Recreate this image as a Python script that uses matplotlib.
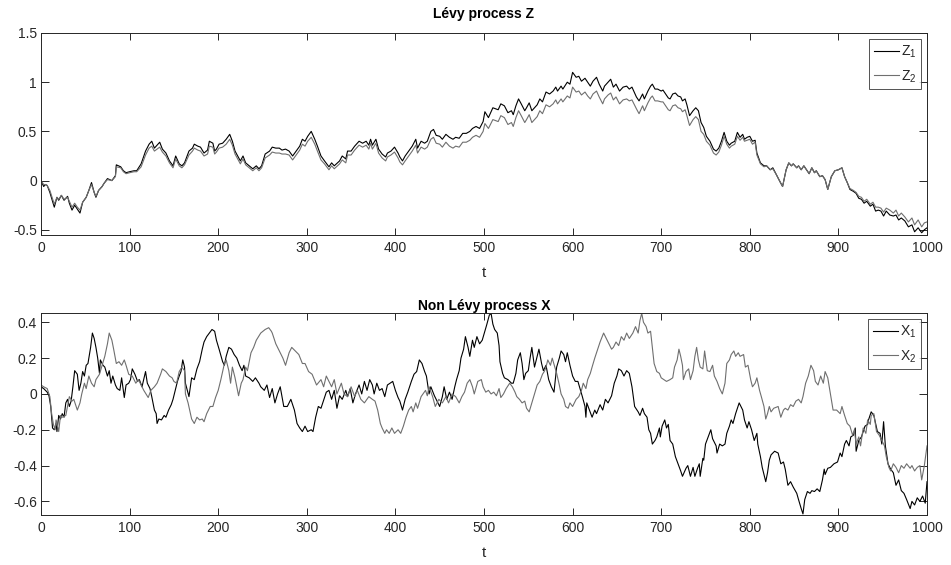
import matplotlib
matplotlib.use("Agg")
import matplotlib.pyplot as plt

plt.rcParams["font.family"] = ["Liberation Sans", "DejaVu Sans"]
plt.rcParams["mathtext.fontset"] = "custom"
plt.rcParams["mathtext.rm"] = "Liberation Sans"
plt.rcParams["mathtext.it"] = "Liberation Sans"

# ---- Lévy process Z: two correlated paths sampled on a shared time grid ----
t_z = [
    0, 3, 5, 7, 10, 15, 18, 20, 23, 26,
    30, 32, 35, 38, 41, 44, 47, 51, 54, 57,
    60, 62, 65, 69, 71, 75, 80, 84, 85, 90,
    93, 96, 100, 105, 108, 113, 118, 122, 125, 128,
    131, 134, 137, 141, 145, 149, 152, 156, 159, 162,
    167, 171, 173, 177, 180, 184, 188, 190, 194, 196,
    198, 201, 205, 209, 213, 216, 219, 222, 225, 228,
    231, 235, 239, 243, 246, 249, 253, 258, 261, 265,
    269, 272, 276, 280, 284, 288, 292, 295, 298, 301,
    305, 309, 312, 316, 320, 325, 328, 331, 337, 340,
    344, 346, 350, 354, 359, 363, 367, 370, 372, 374,
    378, 381, 385, 389, 391, 395, 399, 403, 405, 408,
    411, 415, 419, 423, 425, 429, 433, 436, 440, 443,
    446, 450, 453, 457, 461, 465, 468, 472, 476, 480,
    484, 487, 491, 495, 499, 501, 505, 510, 516, 519,
    523, 527, 531, 533, 536, 539, 542, 546, 548, 551,
    554, 557, 560, 563, 566, 570, 574, 578, 581, 583,
    587, 589, 594, 597, 600, 604, 607, 610, 614, 617,
    620, 623, 627, 630, 634, 636, 640, 643, 646, 649,
    653, 657, 661, 664, 667, 672, 675, 679, 681, 685,
    688, 690, 693, 696, 700, 702, 705, 708, 710, 713,
    716, 719, 722, 724, 727, 729, 732, 736, 739, 742,
    745, 748, 751, 755, 759, 762, 765, 768, 771, 774,
    777, 779, 783, 786, 789, 792, 794, 797, 800, 803,
    806, 808, 812, 816, 819, 823, 826, 830, 834, 837,
    841, 844, 847, 849, 853, 855, 858, 861, 864, 867,
    870, 873, 875, 879, 882, 885, 888, 892, 896, 900,
    904, 907, 910, 913, 917, 920, 923, 926, 929, 932,
    936, 939, 942, 945, 948, 951, 954, 958, 962, 965,
    968, 971, 975, 979, 983, 986, 990, 994, 997, 1000,
]
z1 = [
    0.0, -0.06, -0.04, -0.05, -0.12, -0.27, -0.17, -0.2, -0.15, -0.2,
    -0.16, -0.23, -0.3, -0.25, -0.29, -0.33, -0.22, -0.17, -0.1, -0.02,
    -0.12, -0.17, -0.1, -0.06, -0.03, 0.02, 0.0, 0.05, 0.16, 0.14,
    0.1, 0.08, 0.09, 0.1, 0.1, 0.17, 0.3, 0.37, 0.4, 0.33,
    0.36, 0.39, 0.32, 0.28, 0.2, 0.15, 0.25, 0.17, 0.15, 0.18,
    0.3, 0.33, 0.37, 0.35, 0.34, 0.28, 0.31, 0.4, 0.38, 0.3,
    0.32, 0.37, 0.38, 0.42, 0.47, 0.4, 0.3, 0.25, 0.2, 0.25,
    0.18, 0.15, 0.12, 0.15, 0.12, 0.15, 0.27, 0.3, 0.34, 0.33,
    0.33, 0.31, 0.32, 0.3, 0.25, 0.3, 0.35, 0.42, 0.4, 0.45,
    0.5, 0.42, 0.35, 0.25, 0.2, 0.14, 0.18, 0.15, 0.2, 0.25,
    0.22, 0.3, 0.3, 0.35, 0.4, 0.38, 0.4, 0.36, 0.42, 0.36,
    0.42, 0.32, 0.27, 0.24, 0.28, 0.3, 0.34, 0.28, 0.24, 0.2,
    0.25, 0.3, 0.35, 0.42, 0.33, 0.4, 0.38, 0.4, 0.5, 0.52,
    0.46, 0.45, 0.42, 0.47, 0.44, 0.42, 0.44, 0.43, 0.48, 0.48,
    0.5, 0.53, 0.55, 0.53, 0.6, 0.7, 0.64, 0.74, 0.72, 0.78,
    0.76, 0.69, 0.71, 0.67, 0.76, 0.83, 0.78, 0.71, 0.74, 0.79,
    0.71, 0.74, 0.77, 0.83, 0.8, 0.9, 0.88, 0.91, 0.95, 0.91,
    0.96, 0.93, 1.0, 0.98, 1.1, 1.05, 1.06, 1.01, 1.04, 1.0,
    0.96, 1.01, 1.05, 0.98, 0.91, 0.96, 1.0, 1.03, 0.95, 0.98,
    0.91, 0.95, 0.96, 0.93, 0.95, 0.85, 0.81, 0.88, 0.83, 0.91,
    0.96, 0.98, 0.93, 0.93, 0.91, 0.92, 0.88, 0.84, 0.83, 0.88,
    0.89, 0.86, 0.85, 0.81, 0.83, 0.77, 0.66, 0.71, 0.74, 0.71,
    0.59, 0.54, 0.45, 0.4, 0.32, 0.3, 0.33, 0.4, 0.49, 0.4,
    0.36, 0.38, 0.4, 0.49, 0.44, 0.47, 0.42, 0.44, 0.45, 0.4,
    0.41, 0.28, 0.18, 0.15, 0.15, 0.11, 0.13, 0.06, -0.01, -0.06,
    0.11, 0.18, 0.15, 0.17, 0.13, 0.15, 0.11, 0.15, 0.11, 0.07,
    0.13, 0.08, 0.1, 0.04, 0.05, 0.01, -0.09, 0.04, 0.1, 0.11,
    0.13, 0.04, -0.02, -0.09, -0.11, -0.13, -0.18, -0.19, -0.23, -0.21,
    -0.26, -0.24, -0.31, -0.3, -0.31, -0.36, -0.31, -0.35, -0.36, -0.35,
    -0.4, -0.38, -0.41, -0.47, -0.45, -0.52, -0.48, -0.53, -0.5, -0.48,
]
z2 = [
    0.0, -0.04, -0.04, -0.05, -0.1, -0.24, -0.17, -0.19, -0.15, -0.19,
    -0.17, -0.21, -0.27, -0.23, -0.27, -0.3, -0.22, -0.17, -0.1, -0.04,
    -0.12, -0.16, -0.1, -0.06, -0.03, 0.01, 0.0, 0.04, 0.14, 0.13,
    0.09, 0.07, 0.08, 0.09, 0.09, 0.14, 0.26, 0.33, 0.35, 0.3,
    0.32, 0.34, 0.29, 0.25, 0.18, 0.13, 0.22, 0.15, 0.13, 0.16,
    0.26, 0.3, 0.33, 0.31, 0.3, 0.25, 0.27, 0.35, 0.34, 0.27,
    0.29, 0.33, 0.34, 0.37, 0.42, 0.36, 0.27, 0.22, 0.17, 0.22,
    0.16, 0.13, 0.1, 0.13, 0.1, 0.13, 0.23, 0.26, 0.29, 0.28,
    0.28, 0.27, 0.27, 0.26, 0.21, 0.26, 0.31, 0.37, 0.35, 0.4,
    0.44, 0.37, 0.3, 0.21, 0.17, 0.11, 0.15, 0.12, 0.17, 0.21,
    0.18, 0.26, 0.26, 0.31, 0.36, 0.34, 0.36, 0.32, 0.38, 0.32,
    0.38, 0.28, 0.23, 0.2, 0.24, 0.26, 0.29, 0.23, 0.19, 0.16,
    0.2, 0.25, 0.3, 0.36, 0.28, 0.34, 0.32, 0.34, 0.42, 0.44,
    0.38, 0.37, 0.34, 0.39, 0.35, 0.33, 0.35, 0.34, 0.39, 0.39,
    0.41, 0.44, 0.46, 0.44, 0.5, 0.58, 0.53, 0.62, 0.6, 0.66,
    0.64, 0.57, 0.59, 0.55, 0.64, 0.71, 0.66, 0.59, 0.62, 0.67,
    0.59, 0.62, 0.65, 0.71, 0.68, 0.77, 0.75, 0.78, 0.82, 0.78,
    0.83, 0.8, 0.86, 0.84, 0.95, 0.9, 0.91, 0.87, 0.9, 0.86,
    0.83, 0.88, 0.91, 0.85, 0.78, 0.83, 0.87, 0.89, 0.82, 0.85,
    0.78, 0.82, 0.83, 0.81, 0.82, 0.73, 0.68, 0.76, 0.71, 0.79,
    0.84, 0.86, 0.81, 0.81, 0.8, 0.8, 0.76, 0.72, 0.71, 0.76,
    0.77, 0.74, 0.73, 0.7, 0.72, 0.66, 0.56, 0.62, 0.65, 0.62,
    0.5, 0.47, 0.4, 0.36, 0.28, 0.26, 0.29, 0.36, 0.45, 0.37,
    0.33, 0.35, 0.37, 0.45, 0.41, 0.44, 0.4, 0.41, 0.42, 0.37,
    0.39, 0.26, 0.17, 0.14, 0.15, 0.11, 0.12, 0.06, -0.01, -0.06,
    0.11, 0.18, 0.15, 0.17, 0.13, 0.15, 0.11, 0.15, 0.11, 0.07,
    0.13, 0.08, 0.1, 0.04, 0.05, 0.01, -0.09, 0.04, 0.1, 0.11,
    0.13, 0.04, -0.02, -0.08, -0.1, -0.12, -0.16, -0.17, -0.21, -0.19,
    -0.24, -0.22, -0.27, -0.27, -0.28, -0.32, -0.28, -0.3, -0.33, -0.3,
    -0.36, -0.33, -0.37, -0.42, -0.38, -0.45, -0.4, -0.47, -0.43, -0.42,
]

# ---- Non Lévy process X ----
t_x1 = [
    0, 3, 7, 9, 11, 13, 15, 17, 18, 20,
    22, 24, 26, 28, 30, 32, 34, 36, 38, 41,
    43, 45, 47, 49, 51, 53, 56, 58, 60, 62,
    64, 66, 67, 70, 72, 75, 77, 79, 81, 84,
    86, 89, 91, 94, 96, 99, 101, 103, 106, 109,
    111, 114, 118, 120, 123, 125, 128, 130, 131, 133,
    136, 139, 141, 144, 147, 149, 151, 154, 156, 158,
    160, 162, 163, 167, 170, 173, 176, 179, 182, 184,
    187, 190, 193, 196, 198, 201, 205, 207, 209, 212,
    215, 218, 221, 224, 227, 229, 231, 235, 239, 242,
    246, 248, 252, 255, 258, 261, 264, 267, 270, 274,
    278, 282, 286, 289, 292, 295, 298, 301, 305, 307,
    310, 313, 316, 318, 322, 325, 328, 331, 334, 337,
    340, 344, 346, 349, 352, 355, 359, 362, 365, 368,
    371, 374, 376, 379, 382, 385, 388, 391, 397, 400,
    403, 405, 408, 411, 414, 418, 421, 424, 427, 430,
    433, 435, 438, 440, 444, 447, 450, 453, 455, 458,
    461, 464, 467, 469, 472, 474, 477, 479, 482, 484,
    487, 489, 492, 495, 498, 501, 503, 506, 508, 510,
    512, 515, 517, 518, 521, 523, 527, 531, 533, 536,
    538, 541, 543, 545, 547, 550, 552, 554, 557, 560,
    562, 565, 567, 570, 573, 576, 579, 581, 582, 585,
    587, 590, 592, 594, 597, 600, 603, 606, 609, 611,
    614, 615, 616, 619, 622, 625, 627, 631, 634, 637,
    640, 644, 647, 650, 652, 655, 658, 661, 664, 667,
    670, 674, 676, 679, 681, 684, 686, 688, 690, 693,
    695, 698, 699, 701, 704, 706, 708, 710, 713, 716,
    719, 722, 724, 728, 730, 733, 736, 738, 741, 743,
    744, 747, 748, 750, 753, 756, 758, 762, 763, 766,
    769, 772, 774, 777, 779, 781, 784, 788, 792, 794,
    797, 799, 802, 805, 808, 809, 812, 814, 818, 820,
    822, 824, 828, 832, 835, 838, 840, 843, 846, 849,
    853, 855, 858, 860, 862, 865, 868, 870, 873, 876,
    879, 882, 884, 885, 888, 891, 895, 899, 902, 904,
    907, 909, 912, 914, 917, 919, 920, 923, 926, 930,
    933, 934, 937, 940, 942, 944, 947, 949, 951, 953,
    956, 959, 962, 965, 968, 971, 974, 977, 981, 983,
    986, 989, 992, 995, 998, 1000,
]
x1 = [
    0.04, 0.03, 0.01, -0.01, -0.07, -0.19, -0.2, -0.165, -0.21, -0.12,
    -0.14, -0.11, -0.13, -0.05, -0.03, -0.07, -0.04, 0.04, 0.13, 0.11,
    0.02, 0.06, 0.125, 0.1, 0.16, 0.17, 0.26, 0.34, 0.31, 0.26,
    0.2, 0.115, 0.19, 0.16, 0.15, 0.1, 0.13, 0.06, 0.1, 0.05,
    0.03, 0.02, 0.09, -0.02, 0.05, 0.06, 0.08, 0.14, 0.11, 0.07,
    0.08, 0.04, 0.125, 0.06, 0.03, -0.015, -0.09, -0.11, -0.165, -0.14,
    -0.145, -0.12, -0.13, -0.09, -0.06, -0.03, 0.01, 0.07, 0.1, 0.125,
    0.19, 0.15, 0.06, -0.015, 0.09, 0.08, 0.14, 0.18, 0.25, 0.29,
    0.32, 0.34, 0.36, 0.35, 0.3, 0.25, 0.18, 0.16, 0.21, 0.26,
    0.25, 0.22, 0.2, 0.16, 0.13, 0.16, 0.1, 0.09, 0.07, 0.09,
    0.06, 0.04, 0.02, 0.05, -0.02, 0.03, -0.05, 0.0, 0.04, -0.07,
    -0.07, -0.03, -0.09, -0.165, -0.19, -0.21, -0.18, -0.21, -0.2, -0.21,
    -0.13, -0.07, -0.08, -0.05, 0.01, 0.02, -0.03, 0.02, -0.08, -0.01,
    -0.03, 0.02, -0.015, 0.03, -0.05, 0.0, 0.05, 0.0, 0.07, 0.02,
    0.08, 0.05, 0.0, 0.06, 0.02, 0.03, -0.015, 0.05, 0.07, 0.02,
    -0.02, -0.04, -0.09, -0.03, 0.01, 0.07, 0.11, 0.125, 0.19, 0.17,
    0.125, 0.1, 0.0, 0.04, -0.01, -0.04, -0.07, -0.015, 0.04, -0.03,
    0.01, -0.03, 0.04, 0.08, 0.13, 0.2, 0.25, 0.32, 0.26, 0.21,
    0.3, 0.26, 0.32, 0.28, 0.3, 0.35, 0.385, 0.44, 0.45, 0.39,
    0.36, 0.34, 0.27, 0.18, 0.115, 0.09, 0.08, 0.06, 0.06, 0.115,
    0.19, 0.23, 0.17, 0.08, 0.115, 0.13, 0.2, 0.26, 0.15, 0.21,
    0.25, 0.17, 0.13, 0.16, 0.08, 0.04, 0.01, 0.1, 0.15, 0.2,
    0.24, 0.22, 0.18, 0.23, 0.16, 0.1, 0.07, 0.07, 0.02, -0.015,
    -0.07, -0.13, -0.05, -0.09, -0.13, -0.09, -0.11, -0.06, -0.09, -0.03,
    -0.05, -0.01, 0.06, 0.1, 0.14, 0.13, 0.1, 0.13, 0.115, 0.04,
    -0.07, -0.1, -0.12, -0.08, -0.11, -0.13, -0.2, -0.22, -0.28, -0.26,
    -0.24, -0.19, -0.24, -0.18, -0.145, -0.19, -0.17, -0.26, -0.28, -0.35,
    -0.39, -0.43, -0.46, -0.415, -0.4, -0.46, -0.41, -0.46, -0.415, -0.39,
    -0.46, -0.36, -0.37, -0.28, -0.24, -0.2, -0.25, -0.29, -0.33, -0.28,
    -0.29, -0.28, -0.22, -0.18, -0.145, -0.165, -0.11, -0.05, -0.09, -0.145,
    -0.19, -0.155, -0.2, -0.26, -0.22, -0.28, -0.35, -0.41, -0.49, -0.44,
    -0.37, -0.34, -0.32, -0.33, -0.39, -0.38, -0.42, -0.51, -0.49, -0.52,
    -0.555, -0.59, -0.64, -0.67, -0.59, -0.545, -0.555, -0.54, -0.545, -0.53,
    -0.545, -0.48, -0.42, -0.45, -0.415, -0.41, -0.39, -0.38, -0.33, -0.35,
    -0.28, -0.26, -0.29, -0.24, -0.23, -0.19, -0.32, -0.26, -0.24, -0.18,
    -0.17, -0.145, -0.1, -0.12, -0.165, -0.21, -0.22, -0.28, -0.155, -0.29,
    -0.39, -0.42, -0.44, -0.51, -0.48, -0.54, -0.555, -0.59, -0.64, -0.6,
    -0.62, -0.58, -0.6, -0.57, -0.61, -0.49,
]
t_x2 = [
    0, 3, 7, 10, 12, 14, 16, 17, 20, 22,
    24, 28, 32, 35, 37, 41, 44, 46, 49, 51,
    54, 57, 60, 62, 66, 69, 72, 75, 77, 80,
    82, 85, 88, 91, 94, 96, 99, 103, 107, 110,
    113, 116, 121, 124, 128, 131, 135, 137, 141, 145,
    148, 150, 153, 156, 159, 162, 163, 166, 170, 173,
    176, 179, 182, 184, 187, 191, 194, 197, 200, 203,
    207, 209, 212, 214, 216, 219, 223, 226, 228, 231,
    233, 237, 240, 243, 248, 253, 257, 260, 261, 265,
    268, 273, 276, 280, 283, 287, 291, 295, 298, 302,
    306, 311, 316, 319, 322, 325, 328, 331, 334, 339,
    342, 346, 350, 354, 357, 361, 365, 370, 374, 377,
    380, 383, 385, 388, 390, 393, 396, 399, 403, 406,
    409, 412, 415, 418, 420, 423, 425, 429, 434, 436,
    438, 442, 445, 449, 453, 457, 460, 464, 468, 472,
    475, 478, 481, 484, 487, 489, 493, 497, 499, 502,
    505, 508, 511, 514, 517, 519, 522, 525, 529, 532,
    535, 537, 540, 543, 546, 548, 551, 554, 557, 560,
    563, 566, 568, 570, 572, 575, 577, 580, 582, 585,
    587, 590, 592, 595, 597, 600, 604, 607, 610, 612,
    615, 617, 620, 622, 625, 627, 631, 635, 638, 641,
    644, 646, 649, 652, 655, 658, 661, 664, 668, 671,
    674, 676, 678, 680, 683, 685, 688, 690, 692, 695,
    698, 700, 703, 706, 710, 713, 715, 718, 720, 722,
    724, 725, 728, 731, 733, 736, 738, 740, 742, 744,
    747, 749, 752, 755, 758, 760, 763, 766, 769, 772,
    774, 777, 779, 782, 784, 787, 789, 793, 795, 798,
    801, 803, 806, 808, 811, 813, 816, 818, 820, 822,
    824, 827, 832, 835, 838, 840, 843, 846, 849, 852,
    855, 858, 860, 863, 866, 869, 872, 874, 877, 880,
    883, 885, 888, 891, 894, 898, 902, 904, 907, 910,
    913, 916, 918, 920, 923, 925, 928, 931, 933, 936,
    937, 940, 943, 946, 949, 952, 954, 957, 959, 962,
    965, 968, 971, 974, 977, 981, 983, 986, 989, 992,
    994, 997, 1000,
]
x2 = [
    0.05, 0.04, 0.03, -0.015, -0.11, -0.17, -0.2, -0.145, -0.21, -0.12,
    -0.13, -0.12, -0.015, -0.04, -0.03, -0.09, -0.05, 0.0, 0.06, 0.03,
    0.1, 0.06, 0.04, 0.08, 0.11, 0.16, 0.21, 0.28, 0.34, 0.3,
    0.25, 0.17, 0.18, 0.16, 0.19, 0.16, 0.11, 0.1, 0.06, 0.08,
    0.05, 0.02, -0.02, 0.02, 0.04, 0.06, 0.11, 0.14, 0.125, 0.1,
    0.09, 0.07, 0.06, 0.125, 0.15, 0.13, 0.0, -0.05, -0.14, -0.165,
    -0.13, -0.145, -0.14, -0.155, -0.11, -0.07, -0.07, -0.02, 0.02, 0.08,
    0.17, 0.19, 0.13, 0.06, 0.15, 0.09, -0.01, 0.06, 0.08, 0.15,
    0.13, 0.23, 0.26, 0.3, 0.34, 0.36, 0.37, 0.35, 0.34, 0.28,
    0.25, 0.2, 0.16, 0.23, 0.26, 0.24, 0.22, 0.17, 0.17, 0.125,
    0.11, 0.05, 0.08, 0.04, 0.1, 0.07, 0.04, 0.08, 0.0, 0.06,
    0.0, -0.015, 0.04, -0.015, 0.02, -0.03, -0.05, -0.015, -0.03, -0.04,
    -0.09, -0.165, -0.19, -0.22, -0.2, -0.22, -0.19, -0.22, -0.2, -0.22,
    -0.18, -0.13, -0.09, -0.07, -0.1, -0.05, -0.08, -0.015, 0.02, -0.01,
    0.04, -0.015, -0.07, -0.03, -0.05, -0.015, -0.05, 0.0, -0.015, -0.05,
    -0.015, 0.01, 0.06, 0.08, 0.04, 0.0, 0.07, 0.08, 0.04, 0.01,
    0.02, 0.0, 0.01, -0.01, 0.03, -0.02, 0.0, 0.03, 0.06, 0.04,
    0.01, -0.015, -0.03, -0.05, -0.04, -0.08, -0.1, -0.05, 0.0, 0.05,
    0.07, 0.11, 0.125, 0.15, 0.19, 0.16, 0.2, 0.15, 0.115, 0.05,
    0.0, -0.03, -0.07, -0.08, -0.05, -0.07, -0.03, -0.015, 0.02, 0.06,
    0.03, 0.08, 0.115, 0.15, 0.2, 0.23, 0.29, 0.34, 0.31, 0.28,
    0.25, 0.26, 0.29, 0.27, 0.32, 0.3, 0.34, 0.31, 0.34, 0.376,
    0.34, 0.41, 0.45, 0.4, 0.376, 0.34, 0.35, 0.26, 0.17, 0.125,
    0.115, 0.09, 0.08, 0.07, 0.08, 0.09, 0.15, 0.19, 0.25, 0.21,
    0.16, 0.08, 0.125, 0.14, 0.08, 0.13, 0.21, 0.26, 0.19, 0.15,
    0.14, 0.24, 0.13, 0.125, 0.16, 0.1, 0.07, 0.03, 0.0, 0.06,
    0.17, 0.19, 0.22, 0.24, 0.21, 0.23, 0.21, 0.22, 0.15, 0.16,
    0.08, 0.04, 0.06, 0.09, 0.02, -0.015, -0.07, -0.14, -0.11, -0.07,
    -0.1, -0.08, -0.07, -0.13, -0.09, -0.08, -0.09, -0.06, -0.07, -0.04,
    -0.03, -0.05, -0.015, 0.06, 0.1, 0.16, 0.13, 0.07, 0.05, 0.1,
    0.06, 0.125, 0.09, 0.0, -0.09, -0.09, -0.11, -0.07, -0.12, -0.165,
    -0.18, -0.23, -0.2, -0.28, -0.24, -0.29, -0.19, -0.22, -0.145, -0.17,
    -0.12, -0.11, -0.21, -0.23, -0.26, -0.29, -0.35, -0.41, -0.43, -0.39,
    -0.41, -0.44, -0.4, -0.415, -0.39, -0.415, -0.4, -0.43, -0.41, -0.4,
    -0.48, -0.4, -0.29,
]

# Axis ticks and their printed labels
x_ticks = [0, 100, 200, 300, 400, 500, 600, 700, 800, 900, 1000]
x_tick_labels = ["0", "100", "200", "300", "400", "500", "600", "700", "800", "900", "1000"]
z_ticks = [-0.5, 0, 0.5, 1, 1.5]
z_tick_labels = ["-0.5", "0", "0.5", "1", "1.5"]
x_val_ticks = [-0.6, -0.4, -0.2, 0, 0.2, 0.4]
x_val_tick_labels = ["-0.6", "-0.4", "-0.2", "0", "0.2", "0.4"]

DARK = "#000000"
GREY = "#6f6f6f"
AXIS = "#262626"

fig = plt.figure(figsize=(9.51, 5.65), dpi=100)
W, H = 951.0, 565.0
ax_top = fig.add_axes([41 / W, 1 - 235 / H, 886 / W, 202 / H])
ax_bot = fig.add_axes([41 / W, 1 - 515 / H, 886 / W, 202 / H])


def style(ax, yticks, ylabels, ylim, title, title_pad):
    ax.set_xlim(0, 1000)
    ax.set_ylim(*ylim)
    ax.set_xticks(x_ticks)
    ax.set_xticklabels(x_tick_labels)
    ax.set_yticks(yticks)
    ax.set_yticklabels(ylabels)
    for s in ax.spines.values():
        s.set_color(AXIS)
        s.set_linewidth(0.7)
    ax.tick_params(axis="both", which="both", direction="in", top=True, right=True,
                   colors=AXIS, labelcolor=AXIS, labelsize=10, width=0.7)
    ax.tick_params(axis="x", length=5, pad=4)
    ax.tick_params(axis="y", length=6, pad=3)
    ax.set_xlabel("t", fontsize=11, color=AXIS, labelpad=8)
    ax.set_title(title, fontsize=10, fontweight="bold", pad=title_pad)


ax_top.plot(t_z, z1, color=DARK, lw=0.8, label=r"Z$_{\mathregular{1}}$")
ax_top.plot(t_z, z2, color=GREY, lw=0.8, label=r"Z$_{\mathregular{2}}$")
style(ax_top, z_ticks, z_tick_labels, (-0.553, 1.5), "Lévy process Z", 11)

ax_bot.plot(t_x1, x1, color=DARK, lw=0.8, label=r"X$_{\mathregular{1}}$")
ax_bot.plot(t_x2, x2, color=GREY, lw=0.8, label=r"X$_{\mathregular{2}}$")
style(ax_bot, x_val_ticks, x_val_tick_labels, (-0.676, 0.452), "Non Lévy process X", 2)

for ax in (ax_top, ax_bot):
    leg = ax.legend(loc="upper right", fontsize=10, frameon=True, fancybox=False,
                    borderaxespad=0.4, handlelength=1.8, handletextpad=0.15,
                    borderpad=0.35, labelspacing=0.6)
    leg.get_frame().set_edgecolor(AXIS)
    leg.get_frame().set_linewidth(0.7)
    for txt in leg.get_texts():
        txt.set_color(AXIS)

fig.savefig("out.png", dpi=100)
